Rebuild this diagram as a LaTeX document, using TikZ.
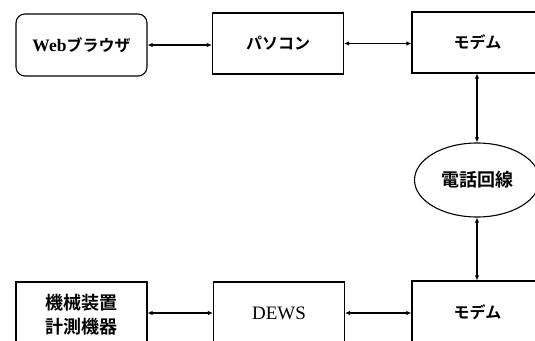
\documentclass[tikz,border=0pt]{standalone}
\usepackage{fontspec}
\setmainfont{Liberation Serif}
\newfontfamily\jp{Noto Sans CJK JP}[BoldFont={* Bold}]
\usetikzlibrary{arrows.meta,shapes.geometric}
\tikzset{
  box/.style={draw, line width=1.1pt, minimum width=131pt, minimum height=62pt, inner sep=0pt, align=center},
  rbox/.style={box, rounded corners=9pt},
  oval/.style={draw, line width=1.1pt, ellipse, minimum width=125pt, minimum height=74pt, inner sep=0pt},
  link/.style={line width=1.1pt, {Latex[length=5pt,width=4.5pt]}-{Latex[length=5pt,width=4.5pt]}},
  kana/.style={font=\jp\bfseries\fontsize{16}{18}\selectfont},
  kanji/.style={font=\jp\bfseries\fontsize{18}{25}\selectfont},
}
\begin{document}
\begin{tikzpicture}[x=1pt,y=-1pt]
\useasboundingbox (0,0) rectangle (535,340);
\clip (0,0) rectangle (535,340);
\node[rbox] (web) at (81.5,45) {{\bfseries\fontsize{17.5}{20}\selectfont Web}{\jp\bfseries\fontsize{16}{18}\selectfont ブラウザ}};
\node[box, kana, minimum height=61pt] (pc) at (278,43.5) {パソコン};
\node[box, kana, minimum height=61pt] (m1) at (477.5,42.5) {モデム};
\node[oval, kanji] (tel) at (477,180) {電話回線};
\node[box, kana] (m2) at (477.5,312) {モデム};
\node[box, font=\fontsize{19}{22}\selectfont] (dews) at (279,313) {DEWS};
\node[box, kanji] (mach) at (81.5,313) {};
\node[kanji, align=center, inner sep=0pt] (machtxt) at (81.5,315) {機械装置\\[-1pt]計測機器};
\draw[link] (web.east) -- (web.east -| pc.west);
\draw[link] (pc.east |- 0,43.5) -- (m1.west |- 0,43.5);
\draw[link] (m1.south -| tel.north) -- (tel.north);
\draw[link] (tel.south) -- (m2.north -| tel.south);
\draw[link] (mach.east) -- (dews.west);
\draw[link] (dews.east) -- (m2.west |- dews.east);
\end{tikzpicture}
\end{document}
